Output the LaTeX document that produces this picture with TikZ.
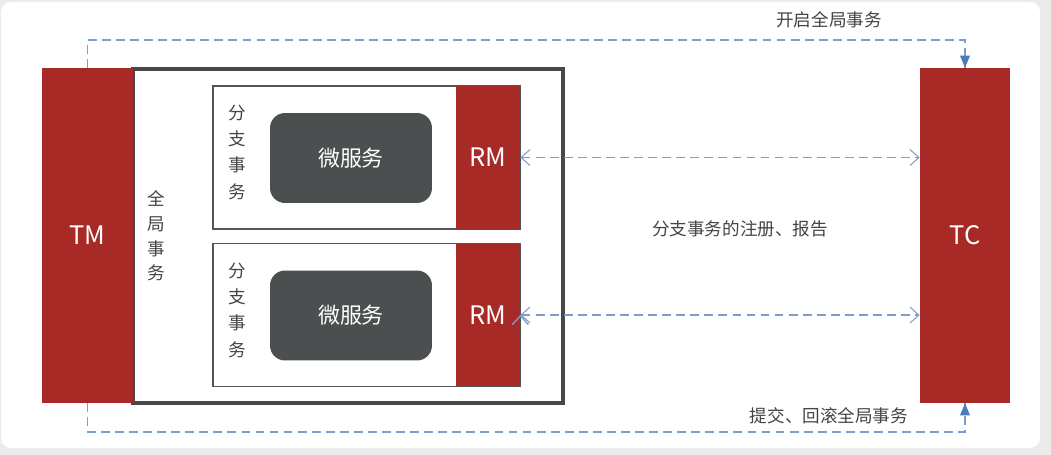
\documentclass[tikz,border=0pt]{standalone}
\usepackage{fontspec}
\setmainfont{Noto Sans CJK SC}
\usetikzlibrary{positioning,arrows.meta}
\definecolor{tmred}{HTML}{A82A26}
\definecolor{msgray}{HTML}{4B4F4F}
\definecolor{boxgray}{HTML}{555555}
\definecolor{flowblue}{HTML}{7F9DC8}
\definecolor{tipblue}{HTML}{4A7BBE}
\definecolor{txtgray}{HTML}{444444}

\begin{document}
\begin{tikzpicture}[
  x=0.02cm, y=-0.02cm,
  redbar/.style={fill=tmred,text=white,inner sep=0pt,font=\fontsize{14.5}{16}\selectfont},
  msbox/.style={fill=msgray,text=white,rounded corners=0.3cm,inner sep=0pt,
    minimum width=3.24cm,minimum height=1.8cm,font=\fontsize{12.5}{14}\selectfont},
  branchbox/.style={draw=boxgray,line width=0.8pt,inner sep=0pt,
    minimum width=6.14cm,minimum height=2.86cm},
  rmbox/.style={redbar,minimum width=1.28cm,minimum height=2.86cm},
  vtext/.style={align=center,text=txtgray,font=\fontsize{10}{15}\selectfont},
  lbl/.style={text=txtgray,font=\fontsize{10}{12}\selectfont},
  flow/.style={draw=flowblue,dash pattern=on 5pt off 3pt,line width=0.6pt},
  font=\small
]
\useasboundingbox (0,0) rectangle (1051,455);
\fill[black!8] (0,0) rectangle (1051,455);
\fill[white,rounded corners=0.2cm] (1,2) rectangle (1040,448);

\node[draw=boxgray!85!black,line width=2pt,inner sep=0pt,minimum width=8.6cm,minimum height=6.68cm] (global) at (348,236) {};
\node[redbar,minimum width=1.82cm,minimum height=6.7cm] (TM) at (87.5,235.5) {TM};
\node[redbar,minimum width=1.8cm,minimum height=6.7cm] (TC) at (965,235.5) {TC};
\node[vtext,font=\fontsize{10}{14}\selectfont] (gtx) at (156,236) {全\\局\\事\\务};

\node[branchbox] (B1) at (366.5,157.5) {};
\node[rmbox] (RM1) at (488,157.5) {RM};
\node[msbox] (MS1) at (351,158) {微服务};
\node[vtext] (bt1) at (237,152) {分\\支\\事\\务};

\node[branchbox] (B2) at (366.5,315) {};
\node[rmbox] (RM2) at (488,315) {RM};
\node[msbox] (MS2) at (351,315.5) {微服务};
\node[vtext] (bt2) at (237,310) {分\\支\\事\\务};

\coordinate (up) at (500,40);
\coordinate (down) at (500,432);
\path[flow] (TM.north) |- (up) -| (TC.north);
\path[flow] (TM.south) |- (down) -| (TC.south);
\fill[tipblue] (TC.north) -- ++(-5,-12) -- ++(10,0) -- cycle;
\fill[tipblue] (TC.south) -- ++(-5,12) -- ++(10,0) -- cycle;

\path[flow,{Straight Barb[length=5pt,width=9pt]}-{Straight Barb[length=5pt,width=9pt]}]
  (RM1.east) edge (RM1.east -| TC.west)
  (RM2.east) edge (RM2.east -| TC.west);

\node[lbl] (open) at (829,20) {开启全局事务};
\node[lbl] (reg) at (740,229) {分支事务的注册、报告};
\node[lbl] (commit) at (829,416) {提交、回滚全局事务};
\end{tikzpicture}
\end{document}
